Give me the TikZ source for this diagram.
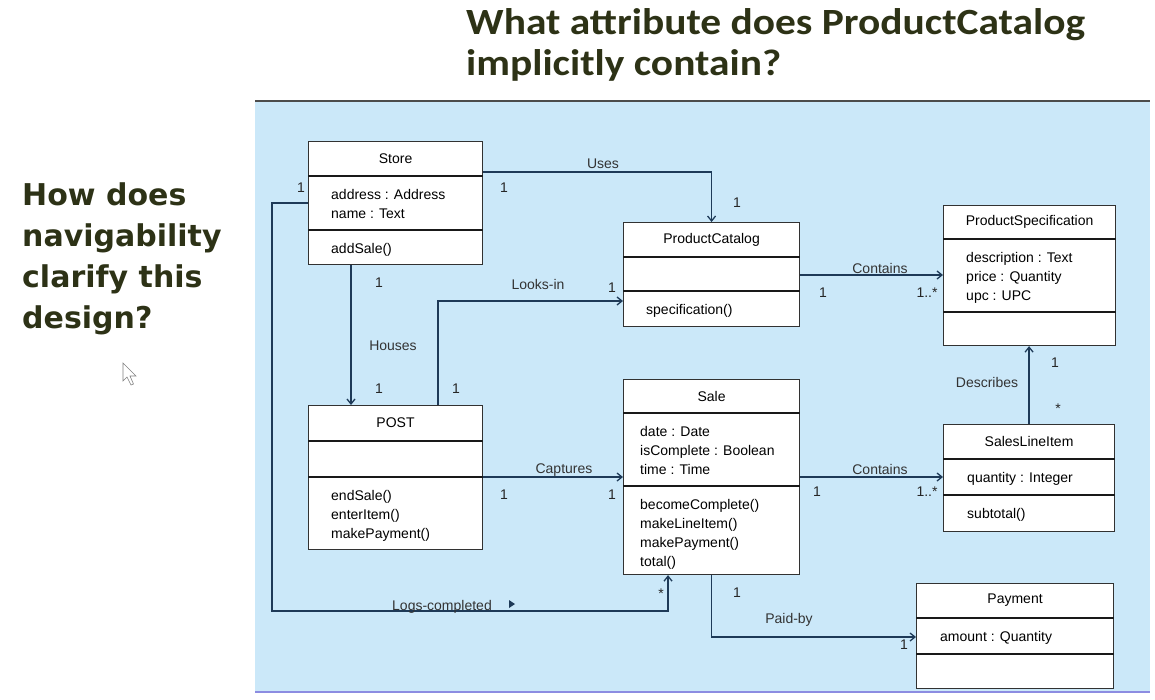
\documentclass[tikz,border=0pt]{standalone}
\usepackage{fontspec}
\setmainfont{Liberation Sans}
\newfontfamily\titlefont{Carlito}
\newfontfamily\sidefont{DejaVu Sans}
\usetikzlibrary{arrows.meta, positioning}
\definecolor{panelblue}{RGB}{203,232,249}
\definecolor{linknavy}{RGB}{30,58,88}
\definecolor{questionolive}{RGB}{45,50,22}
\definecolor{boxgray}{RGB}{50,50,50}
\definecolor{rulepurple}{RGB}{140,140,225}

\tikzset{
  classbox/.style={draw=boxgray, line width=1.1pt, fill=white, inner sep=0pt, anchor=north west},
  sepline/.style={line width=1.8pt, draw=black!90},
  assoc/.style={draw=linknavy, line width=1.3pt, -{Straight Barb[length=5pt,width=8pt]}},
  mult/.style={font=\fontsize{14}{16}\selectfont, text=black!85, inner sep=1pt},
  rolelabel/.style={font=\fontsize{14}{16}\selectfont, text=black!80, inner sep=1pt},
  membertext/.style={font=\fontsize{14}{19}\selectfont, align=left, inner sep=0pt, anchor=north west},
  sidequestion/.style={font=\sidefont\bfseries\fontsize{30}{36}\selectfont, text=questionolive, anchor=base west, inner sep=0pt},
  titlequestion/.style={font=\titlefont\bfseries\fontsize{37}{44}\selectfont, text=questionolive, anchor=base west, inner sep=0pt},
}

% name, top-left, width, header line, attribute line, height, title, attributes, operations
\def\memberindent{23}
\newcommand{\umlclass}[9]{%
  \node[classbox, minimum width=#3pt, minimum height=#6pt] (#1) at #2 {};
  \draw[sepline] ([yshift=-#4pt]#1.north west) -- ([yshift=-#4pt]#1.north east);
  \draw[sepline] ([yshift=-#5pt]#1.north west) -- ([yshift=-#5pt]#1.north east);
  \node[font=\fontsize{14}{16}\selectfont] (#1-name) at ([yshift=-#4pt/2]#1.north) {#7};
  \node[membertext] (#1-attrs) at ([xshift=\memberindent pt, yshift=-#4pt-13pt]#1.north west) {#8};
  \node[membertext] (#1-ops) at ([xshift=\memberindent pt, yshift=-#5pt-13pt]#1.north west) {#9};
}

\begin{document}
\begin{tikzpicture}[x=1pt, y=-1pt]
\useasboundingbox (0,0) rectangle (1155,699);

% questions
\node[titlequestion] (title-1) at (466,34) {\scalebox{1.12}[1]{What attribute does ProductCatalog}};
\node[titlequestion] (title-2) at (466,75) {\scalebox{1.12}[1]{implicitly contain?}};
\foreach \txt [count=\i] in {How does, navigability, clarify this, design?}
  \node[sidequestion] (side-\i) at (22,{205+41*(\i-1)}) {\txt};

% mouse pointer
\draw[gray, fill=white, line width=0.6pt] (123,363) -- (123,381) -- (127,377) -- (131,385)
  -- (133.5,384) -- (130,376) -- (136,376) -- cycle;

% diagram panel
\fill[panelblue] (255,101) rectangle (1150,692);
\draw[black!70, line width=1.2pt] (255,101) -- (1150,101);
\draw[rulepurple, line width=1.5pt] (255,692) -- (1150,692);

% classes
\umlclass{store}{(308,141)}{174}{35}{89}{123}{Store}{address : Address\\name : Text}{addSale()}
\umlclass{catalog}{(623,222)}{176}{35}{69}{104}{ProductCatalog}{}{specification()}
\umlclass{spec}{(943,205)}{172}{34}{107}{140}{ProductSpecification}{description : Text\\price : Quantity\\upc : UPC}{}
\umlclass{post}{(308,405)}{174}{36}{72}{144}{POST}{}{endSale()\\enterItem()\\makePayment()}
\def\memberindent{17}
\umlclass{sale}{(623,379)}{176}{34}{107}{195}{Sale}{date : Date\\isComplete : Boolean\\time : Time}{becomeComplete()\\makeLineItem()\\makePayment()\\total()}
\def\memberindent{24}
\umlclass{lineitem}{(943,424)}{171}{35}{71}{107}{SalesLineItem}{quantity : Integer}{subtotal()}
\umlclass{payment}{(916,583)}{197}{35}{71}{105}{Payment}{amount : Quantity}{}

% associations
\draw[assoc] ([yshift=-31pt]store.north east) -| (catalog.north);
\draw[assoc] ([xshift=130pt]post.north west) |- ([yshift=-79pt]catalog.north west);
\draw[assoc] ([xshift=43pt]store.south west) -- ([xshift=43pt]post.north west);
\draw[assoc] ([yshift=-53pt]catalog.north east) -- ([yshift=-70pt]spec.north west);
\draw[assoc] ([yshift=-72pt]post.north east) -- ([yshift=-98pt]sale.north west);
\draw[assoc] ([yshift=-98pt]sale.north east) -- ([yshift=-53pt]lineitem.north west);
\draw[assoc] (lineitem.north) -- (lineitem.north |- spec.south);
\draw[assoc] (sale.south) |- ([yshift=-54pt]payment.north west);
\coordinate (logsbend) at (272,611);
\draw[assoc] ([yshift=-62pt]store.north west) -| (logsbend) -| ([xshift=45pt]sale.south west);

% labels and multiplicities
\node[rolelabel] (uses) at (603,164) {Uses};
\node[mult] (m-store-uses) at (504,188) {1};
\node[mult] (m-catalog-uses) at (737,203) {1};
\node[mult] (m-store-logs) at (301,188) {1};
\node[mult] (m-store-houses) at (379,283) {1};
\node[rolelabel] (houses) at (393,346) {Houses};
\node[mult] (m-post-houses) at (379,389) {1};
\node[mult] (m-post-looks) at (456,389) {1};
\node[rolelabel] (looksin) at (538,284) {Looks-in};
\node[mult] (m-catalog-looks) at (612,288) {1};
\node[rolelabel] (contains-spec) at (880,268) {Contains};
\node[mult] (m-catalog-contains) at (823,293) {1};
\node[mult] (m-spec-contains) at (927,293) {1..*};
\node[rolelabel] (describes) at (987,382) {Describes};
\node[mult] (m-spec-describes) at (1055,363) {1};
\node[mult] (m-item-describes) at (1058,409) {*};
\node[rolelabel] (captures) at (564,470) {Captures};
\node[mult] (m-post-captures) at (504,495) {1};
\node[mult] (m-sale-captures) at (612,495) {1};
\node[rolelabel] (contains-item) at (880,469) {Contains};
\node[mult] (m-sale-contains) at (817,492) {1};
\node[mult] (m-item-contains) at (927,492) {1..*};
\node[rolelabel] (logs) at (442,607) {Logs-completed};
\fill[linknavy] (509,600) -- (515,604) -- (509,608) -- cycle;
\node[mult] (m-sale-logs) at (661,594) {*};
\node[mult] (m-sale-paid) at (737,593) {1};
\node[rolelabel] (paidby) at (789,620) {Paid-by};
\node[mult] (m-payment-paid) at (904,645) {1};
\end{tikzpicture}
\end{document}
